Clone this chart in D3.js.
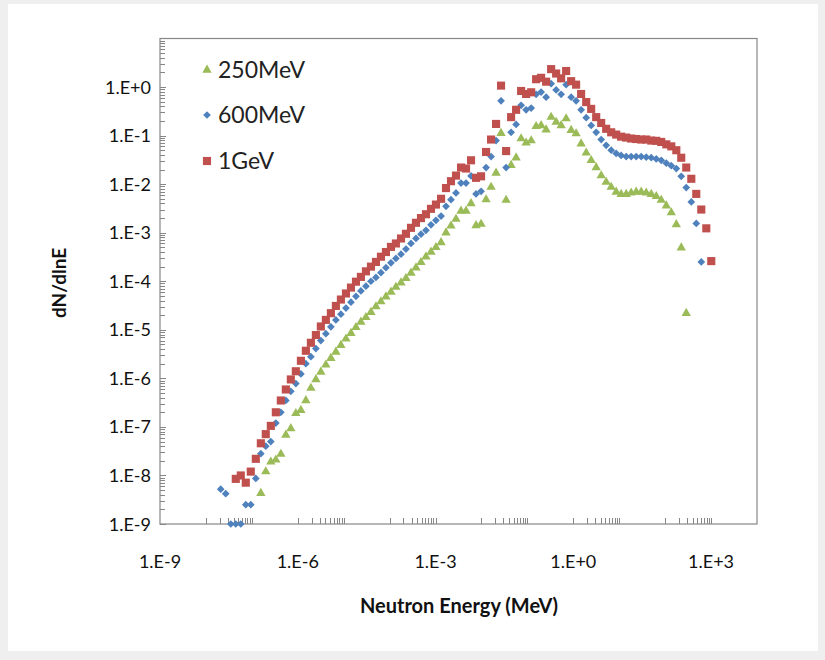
<!DOCTYPE html>
<meta charset="utf-8">
<script src="https://d3js.org/d3.v7.min.js"></script>
<style>
    body { margin: 0; background: #efefef; }
    text { font-family: Lato, "Open Sans", sans-serif; }
</style>

<body>
    <div id="my_dataviz"></div>
</body>
<script>

    // neutron energy bins (MeV), shared by the three beams
    var energy = [2.10e-8, 2.70e-8, 3.48e-8, 4.47e-8, 5.74e-8, 7.38e-8, 9.48e-8,
        1.22e-7, 1.57e-7, 2.01e-7, 2.59e-7, 3.33e-7, 4.28e-7, 5.50e-7, 7.06e-7, 9.08e-7,
        1.17e-6, 1.50e-6, 1.93e-6, 2.48e-6, 3.18e-6, 4.09e-6, 5.26e-6, 6.76e-6, 8.69e-6,
        1.12e-5, 1.44e-5, 1.85e-5, 2.37e-5, 3.05e-5, 3.92e-5, 5.04e-5, 6.47e-5, 8.32e-5,
        1.07e-4, 1.37e-4, 1.77e-4, 2.27e-4, 2.92e-4, 3.75e-4, 4.82e-4, 6.19e-4, 7.96e-4,
        1.02e-3, 1.32e-3, 1.69e-3, 2.17e-3, 2.79e-3, 3.59e-3, 4.61e-3, 5.93e-3, 7.62e-3, 9.80e-3,
        1.26e-2, 1.62e-2, 2.08e-2, 2.67e-2, 3.44e-2, 4.42e-2, 5.68e-2, 7.30e-2, 9.38e-2,
        0.121, 0.155, 0.199, 0.256, 0.329, 0.423, 0.543, 0.698, 0.897,
        1.15, 1.48, 1.91, 2.45, 3.15, 4.05, 5.20, 6.68, 8.59,
        11.0, 14.2, 18.2, 23.4, 30.1, 38.7, 49.8, 64.0, 82.2,
        106, 136, 175, 224, 288, 371, 476, 612, 787, 1010];

    // dN/dlnE for each beam energy (null = no point)
    var flux250 = [null, null, null, null, null, null, null,
        null, 4.3e-9, 1.2e-8, 1.9e-8, 2.1e-8, 2.75e-8, 6.8e-8, 9.3e-8, 1.9e-7,
        2.2e-7, 3.5e-7, 6.3e-7, 9.5e-7, 1.35e-6, 1.9e-6, 2.6e-6, 3.5e-6, 4.8e-6,
        6.5e-6, 8.5e-6, 1.12e-5, 1.45e-5, 1.8e-5, 2.3e-5, 3.0e-5, 3.8e-5, 4.8e-5,
        6.0e-5, 7.6e-5, 9.3e-5, 1.15e-4, 1.48e-4, 1.9e-4, 2.45e-4, 3.2e-4, 4.0e-4,
        5.0e-4, 6.3e-4, 1.0e-3, 1.38e-3, 1.9e-3, 2.8e-3, 2.8e-3, 4.0e-3, 1.41e-3, 1.5e-3,
        4.8e-3, 8.7e-3, 1.7e-2, 0.112, 4.7e-3, 2.45e-2, 3.5e-2, 8.7e-2, 7.1e-2,
        7.9e-2, 0.155, 0.162, 0.132, 0.24, 0.19, 0.162, 0.224, 0.129,
        0.11, 6.8e-2, 4.4e-2, 3.1e-2, 2.2e-2, 1.5e-2, 1.1e-2, 8.7e-3, 6.9e-3,
        6.2e-3, 6.2e-3, 6.6e-3, 6.9e-3, 6.9e-3, 6.6e-3, 6.2e-3, 5.6e-3, 4.7e-3,
        3.6e-3, 2.6e-3, 1.48e-3, 4.9e-4, 2.2e-5, null, null, null, null, null];

    var flux600 = [5.2e-9, 4.2e-9, 1.0e-9, 1.0e-9, 1.0e-9, 2.5e-9, 2.5e-9,
        8.7e-9, 2.8e-8, 4.0e-8, 5.0e-8, 1.2e-7, 2.0e-7, 3.5e-7, 5.4e-7, 7.8e-7,
        1.23e-6, 2.0e-6, 2.8e-6, 4.1e-6, 6.0e-6, 8.3e-6, 1.15e-5, 1.6e-5, 2.1e-5,
        2.8e-5, 3.7e-5, 4.9e-5, 6.3e-5, 7.9e-5, 1.0e-4, 1.2e-4, 1.5e-4, 1.9e-4,
        2.4e-4, 2.95e-4, 3.6e-4, 4.6e-4, 6.0e-4, 7.6e-4, 9.3e-4, 1.12e-3, 1.45e-3,
        1.8e-3, 2.2e-3, 3.5e-3, 4.8e-3, 6.6e-3, 1.05e-2, 1.05e-2, 1.48e-2, 6.3e-3, 7.1e-3,
        2.2e-2, 3.7e-2, 7.9e-2, 0.52, 2.2e-2, 0.117, 0.17, 0.42, 0.34,
        0.37, 0.71, 0.79, 0.62, 1.17, 0.87, 0.71, 1.12, 0.62,
        0.52, 0.34, 0.234, 0.162, 0.117, 0.083, 0.063, 0.050, 0.043,
        0.039, 0.037, 0.037, 0.037, 0.037, 0.036, 0.035, 0.033, 0.031,
        0.027, 0.024, 0.021, 0.0145, 0.0085, 0.0043, 0.00155, 0.00025, null, null];

    var flux1000 = [null, null, null, 8.5e-9, 1.0e-8, 7.1e-9, 1.2e-8,
        2.2e-8, 4.6e-8, 7.1e-8, 1.05e-7, 2.0e-7, 3.5e-7, 5.9e-7, 9.5e-7, 1.4e-6,
        2.3e-6, 3.7e-6, 5.4e-6, 7.8e-6, 1.17e-5, 1.6e-5, 2.2e-5, 3.1e-5, 4.2e-5,
        5.6e-5, 7.4e-5, 9.8e-5, 1.23e-4, 1.6e-4, 2.0e-4, 2.5e-4, 3.2e-4, 4.0e-4,
        5.1e-4, 6.0e-4, 7.6e-4, 9.5e-4, 1.26e-3, 1.6e-3, 2.0e-3, 2.4e-3, 3.1e-3,
        3.8e-3, 5.0e-3, 8.3e-3, 1.15e-2, 1.5e-2, 2.2e-2, 2.1e-2, 3.1e-2, 1.35e-2, 1.45e-2,
        4.6e-2, 8.3e-2, 0.174, 1.07, 4.8e-2, 0.24, 0.34, 0.83, 0.72,
        0.78, 1.45, 1.55, 1.29, 2.34, 1.9, 1.51, 2.14, 1.32,
        1.12, 0.72, 0.49, 0.355, 0.24, 0.182, 0.138, 0.117, 0.105,
        0.095, 0.091, 0.087, 0.085, 0.083, 0.083, 0.079, 0.078, 0.074,
        0.066, 0.060, 0.050, 0.035, 0.022, 0.0129, 0.0063, 0.0030, 0.00123, 0.00026];

    var seriesNames = ["250MeV", "600MeV", "1GeV"];
    var seriesColors = ["#9BBB59", "#4F81BD", "#C0504D"];

    var yTickValues = [1e-9, 1e-8, 1e-7, 1e-6, 1e-5, 1e-4, 1e-3, 1e-2, 1e-1, 1];
    var yTickLabels = ["1.E-9", "1.E-8", "1.E-7", "1.E-6", "1.E-5", "1.E-4", "1.E-3", "1.E-2", "1.E-1", "1.E+0"];
    var xTickValues = [1e-9, 1e-6, 1e-3, 1, 1e3];
    var xTickLabels = ["1.E-9", "1.E-6", "1.E-3", "1.E+0", "1.E+3"];

    var width = 825,
        height = 660;
    var plotLeft = 160, plotRight = 757, plotTop = 38.5, plotBottom = 524;
    var axisColor = "#878787";

    var svg = d3.select("#my_dataviz")
        .append("svg")
        .attr("width", width)
        .attr("height", height)

    // white sheet on the grey page
    svg.append("rect")
        .attr("x", 8).attr("y", 4)
        .attr("width", 810).attr("height", 647)
        .style("fill", "white")

    var x = d3.scaleLog().domain([1e-9, 1e4]).range([plotLeft, plotRight])
    var y = d3.scaleLog().domain([1e-9, 10]).range([plotBottom, plotTop])

    // plot frame
    svg.append("rect")
        .attr("x", plotLeft).attr("y", plotTop)
        .attr("width", plotRight - plotLeft).attr("height", plotBottom - plotTop)
        .style("fill", "none")
        .style("stroke", axisColor)
        .style("stroke-width", 1.2)

    // y ticks: every decade plus 2..9, pointing inward
    var yTicks = [];
    for (var e = -9; e < 1; e++) {
        for (var k = 1; k <= 9; k++) {
            yTicks.push({ v: k * Math.pow(10, e), major: k == 1 });
        }
    }
    svg.selectAll(".ytick")
        .data(yTicks)
        .enter()
        .append("line")
        .attr("x1", plotLeft)
        .attr("x2", function (d) { return plotLeft + (d.major ? 6 : 5) })
        .attr("y1", function (d) { return Math.round(y(d.v)) + 0.5 })
        .attr("y2", function (d) { return Math.round(y(d.v)) + 0.5 })
        .style("stroke", axisColor)

    // x ticks: every decade, minor ticks only in the even decades (as Excel drew them)
    var xTicks = [];
    for (var e = -8; e <= 3; e++) {
        xTicks.push({ v: Math.pow(10, e) });
        if (Math.abs(e) % 2 == 0 && e < 3) {
            for (var k = 2; k <= 9; k++) xTicks.push({ v: k * Math.pow(10, e) });
        }
    }
    svg.selectAll(".xtick")
        .data(xTicks)
        .enter()
        .append("line")
        .attr("x1", function (d) { return Math.round(x(d.v)) + 0.5 })
        .attr("x2", function (d) { return Math.round(x(d.v)) + 0.5 })
        .attr("y1", plotBottom)
        .attr("y2", plotBottom - 6)
        .style("stroke", axisColor)

    // tick labels
    svg.selectAll(".ylabel")
        .data(yTickValues)
        .enter()
        .append("text")
        .attr("x", 151)
        .attr("y", function (d) { return y(d) + 6.5 })
        .attr("text-anchor", "end")
        .style("font-size", "18px")
        .style("fill", "#111")
        .text(function (d, i) { return yTickLabels[i] })

    svg.selectAll(".xlabel")
        .data(xTickValues)
        .enter()
        .append("text")
        .attr("x", function (d) { return x(d) })
        .attr("y", 568)
        .attr("text-anchor", "middle")
        .style("font-size", "18px")
        .style("fill", "#111")
        .text(function (d, i) { return xTickLabels[i] })

    // axis titles
    svg.append("text")
        .attr("x", 459).attr("y", 613)
        .attr("text-anchor", "middle")
        .style("font-size", "20px")
        .style("font-weight", "bold")
        .style("fill", "#111")
        .text("Neutron Energy (MeV)")

    svg.append("text")
        .attr("transform", "translate(66,283) rotate(-90)")
        .attr("text-anchor", "middle")
        .style("font-size", "19px")
        .style("font-weight", "bold")
        .style("fill", "#111")
        .text("dN/dlnE")

    // markers
    function marker(sel, i) {
        if (i == 0) {
            sel.attr("d", d3.symbol().type(d3.symbolTriangle).size(38)())
        } else if (i == 1) {
            sel.attr("d", d3.symbol().type(d3.symbolSquare).size(30)())
                .attr("transform", function () { return d3.select(this).attr("transform") + " rotate(45)" })
        } else {
            sel.attr("d", d3.symbol().type(d3.symbolSquare).size(66)())
        }
        sel.style("fill", seriesColors[i])
    }

    var allSeries = [flux250, flux600, flux1000];
    allSeries.forEach(function (values, i) {
        var pts = [];
        values.forEach(function (v, j) {
            if (v != null) pts.push({ e: energy[j], v: v });
        });
        var g = svg.append("g");
        var p = g.selectAll("path")
            .data(pts)
            .enter()
            .append("path")
            .attr("transform", function (d) { return "translate(" + x(d.e) + "," + y(d.v) + ")" })
        marker(p, i);
    });

    // legend
    var legendY = [70, 115, 161];
    seriesNames.forEach(function (name, i) {
        var m = svg.append("path")
            .attr("transform", "translate(207," + legendY[i] + ")")
        marker(m, i);
        svg.append("text")
            .attr("x", 218)
            .attr("y", legendY[i] + 8)
            .style("font-size", "23px")
            .style("fill", "#222")
            .text(name)
    });

</script>
